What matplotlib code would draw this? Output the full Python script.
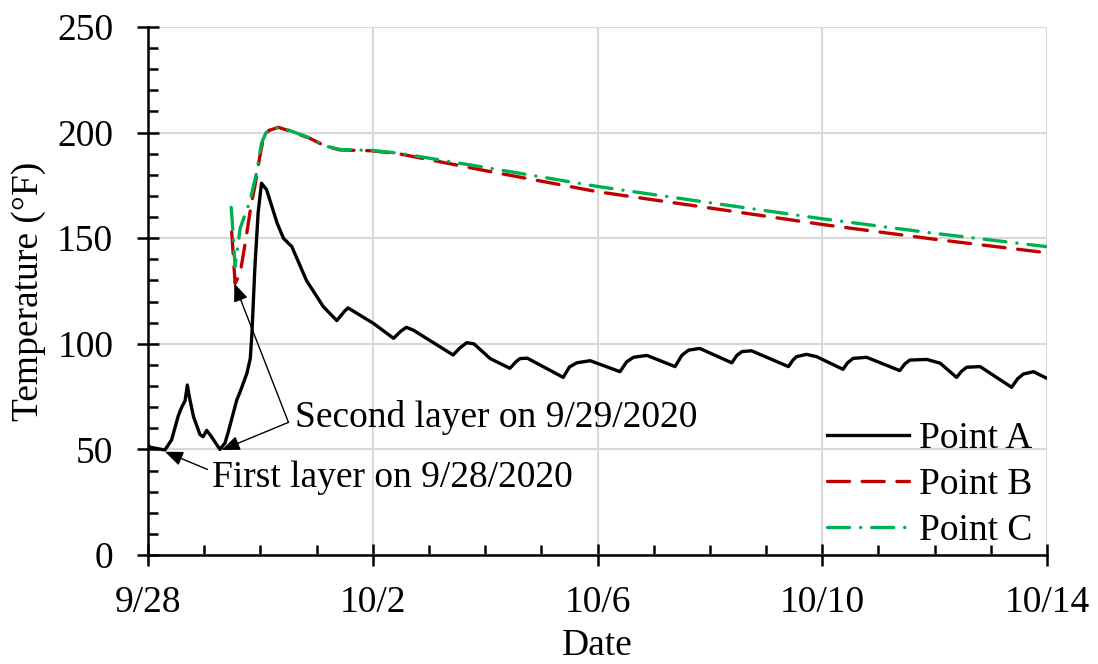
import matplotlib
matplotlib.use("Agg")
import matplotlib.pyplot as plt
from matplotlib.ticker import MultipleLocator

plt.rcParams['font.family'] = ['Liberation Serif', 'DejaVu Serif']
plt.rcParams['mathtext.fontset'] = 'stix'

# ---- data (days since 9/28, temperature in F) ----
a_days = [0.00, 0.04, 0.30, 0.42, 0.54, 0.60, 0.66, 0.70, 0.735, 0.81, 0.925, 0.98,
          1.045, 1.13, 1.28, 1.37, 1.43, 1.58, 1.64, 1.76, 1.82, 1.85, 1.90, 1.96,
          2.02, 2.11, 2.30, 2.41, 2.56, 2.82, 3.12, 3.36, 3.50, 3.56, 3.77, 4.01,
          4.37, 4.50, 4.60, 4.72, 5.43, 5.55, 5.67, 5.80, 6.09, 6.44, 6.55, 6.62,
          6.75, 7.39, 7.50, 7.63, 7.87, 8.40, 8.52, 8.64, 8.88, 9.38, 9.50, 9.62,
          9.82, 10.39, 10.48, 10.57, 10.74, 11.40, 11.47, 11.54, 11.72, 11.90, 12.37,
          12.45, 12.55, 12.79, 13.38, 13.47, 13.56, 13.86, 14.10, 14.39, 14.48,
          14.57, 14.81, 15.37, 15.48, 15.58, 15.76, 16.0]
a_temp = [52.0, 51.0, 49.7, 54.5, 66.0, 70.0, 73.0, 80.5, 75.0, 65.5, 57.0, 56.0,
          59.0, 56.0, 50.0, 53.0, 58.4, 73.4, 77.3, 86.0, 93.0, 105.0, 135.0, 162.0,
          176.0, 173.0, 157.0, 150.0, 146.0, 130.0, 117.6, 111.0, 115.5, 117.0, 113.6, 109.7,
          102.6, 106.0, 107.8, 106.5, 94.7, 98.0, 100.5, 100.0, 93.0, 88.4, 91.5, 93.0,
          93.2, 84.1, 89.0, 91.0, 92.0, 86.8, 91.5, 93.6, 94.5, 89.2, 94.5, 97.0,
          97.8, 91.0, 94.5, 96.3, 96.7, 89.2, 92.0, 93.9, 95.0, 93.9, 87.9,
          91.0, 93.1, 93.6, 87.3, 90.5, 92.3, 92.6, 90.8, 84.1, 87.0,
          88.9, 89.2, 79.4, 83.5, 85.7, 86.8, 83.6]

b_days = [1.49, 1.51, 1.55, 1.64, 1.73, 1.84, 1.90, 1.99, 2.05, 2.15, 2.32, 2.47,
          2.88, 3.18, 3.42, 3.98, 4.48, 6.0, 8.0, 10.0, 12.0, 14.0, 16.0]
b_temp = [153.0, 145.0, 128.6, 133.4, 147.6, 166.5, 174.4, 188.6, 197.0, 201.0, 202.5, 201.2,
          197.3, 193.3, 191.8, 191.4, 189.9, 182.0, 172.0, 164.3, 156.5, 149.5, 143.1]

c_days = [1.48, 1.50, 1.55, 1.64, 1.78, 1.84, 1.93, 2.02, 2.10, 2.32, 2.47,
          2.88, 3.18, 3.42, 3.98, 4.48, 6.0, 8.0, 10.0, 12.0, 14.0, 16.0]
c_temp = [164.6, 158.0, 136.5, 154.7, 165.0, 170.5, 180.7, 195.0, 200.0, 202.5, 201.5,
          197.5, 193.5, 192.0, 191.6, 190.2, 183.5, 174.5, 166.8, 159.2, 152.3, 146.0]

x_ticks = [0, 4, 8, 12, 16]
x_ticklabels = ['9/28', '10/2', '10/6', '10/10', '10/14']
y_ticks = [0, 50, 100, 150, 200, 250]

FS = 27
LW = 2.4

fig = plt.figure(figsize=(10.98, 6.64), dpi=100)
ax = fig.add_axes([148/1098, 1-555/664, (1047-148)/1098, (555-27)/664])

ax.plot(a_days, a_temp, color='black', lw=LW, label='Point A', zorder=3,
        solid_joinstyle='round')
ax.plot(b_days, b_temp, color='#C00000', lw=LW, label='Point B', zorder=4,
        linestyle=(0, (6.6, 3.8)), dash_capstyle='round')
ax.plot(c_days, c_temp, color='#00B050', lw=LW, label='Point C', zorder=5,
        linestyle=(0, (6.6, 3.3, 0.05, 3.3)), dash_capstyle='round')

ax.set_xlim(0, 16)
ax.set_ylim(0, 250)
ax.set_xticks(x_ticks)
ax.set_xticklabels(x_ticklabels)
ax.set_yticks(y_ticks)
ax.xaxis.set_minor_locator(MultipleLocator(1))
ax.yaxis.set_minor_locator(MultipleLocator(10))

ax.grid(True, which='major', color='#D9D9D9', lw=1.5, zorder=0)
ax.set_axisbelow(True)
for s in ['top', 'right']:
    ax.spines[s].set_visible(False)
for s in ['left', 'bottom']:
    ax.spines[s].set_linewidth(1.8)
    ax.spines[s].set_zorder(6)

ax.tick_params(axis='both', which='major', direction='inout', length=16, width=1.8,
               labelsize=FS)
ax.tick_params(axis='both', which='minor', direction='in', length=7, width=1.8)
ax.tick_params(axis='y', which='major', pad=17)
ax.tick_params(axis='x', which='major', pad=14)

ax.set_ylabel('Temperature (°F)', fontsize=FS, labelpad=8)
ax.set_xlabel('Date', fontsize=FS, labelpad=6)

arrow = dict(arrowstyle='-|>,head_length=0.55,head_width=0.22', color='black',
             lw=1.0, shrinkA=0, shrinkB=0, mutation_scale=20)
# First layer annotation
ax.annotate('', xy=(0.30, 48.9), xytext=(1.06, 40.5), arrowprops=arrow, zorder=7)
ax.text(1.14, 36.5, 'First layer on 9/28/2020', fontsize=FS, ha='left', va='center')
# Second layer annotation
ax.annotate('', xy=(1.31, 49.7), xytext=(2.50, 62.8), arrowprops=arrow, zorder=7)
ax.annotate('', xy=(1.536, 128.6), xytext=(2.50, 62.8), arrowprops=arrow, zorder=7)
ax.text(2.616, 64.9, 'Second layer on 9/29/2020', fontsize=FS, ha='left', va='center')

leg = ax.legend(loc='lower right', bbox_to_anchor=(1032/1098, 1-548/664),
                bbox_transform=fig.transFigure, frameon=False, fontsize=FS,
                handlelength=2.2, handletextpad=0.25, labelspacing=0.3,
                borderpad=0, borderaxespad=0)

fig.savefig('out.png', dpi=100)
